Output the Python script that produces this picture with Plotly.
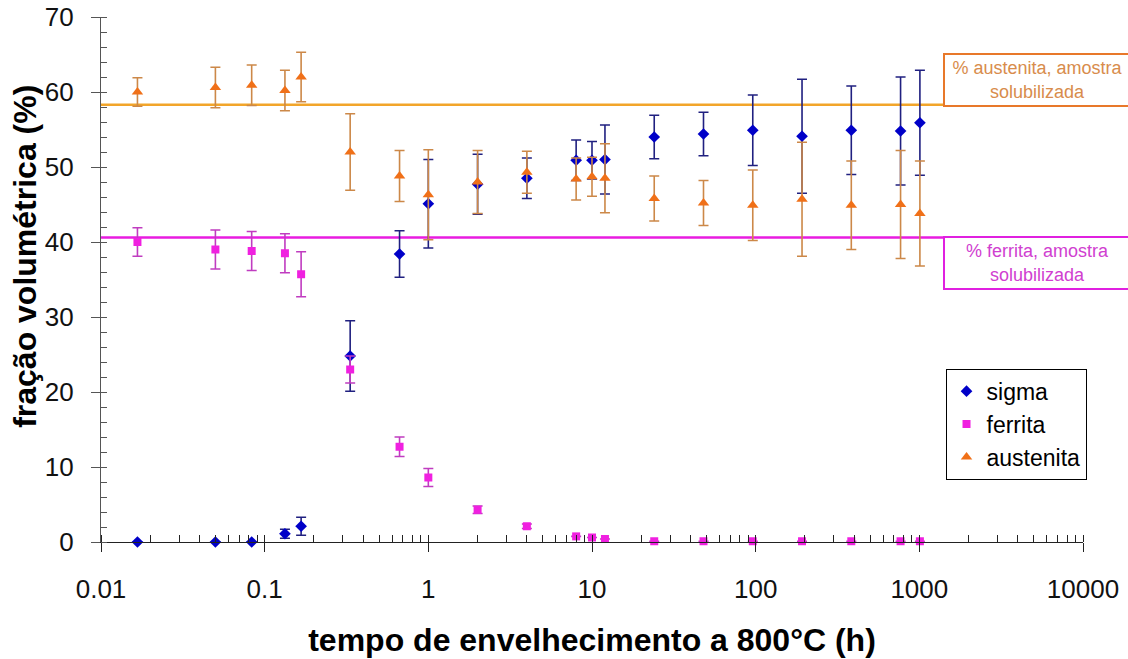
import plotly.graph_objects as go

# ---- data ----
time_h = [0.0167, 0.05, 0.0833, 0.133, 0.167, 0.333, 0.667, 1, 2, 4, 8, 10, 12,
          24, 48, 96, 192, 384, 768, 1008]
sigma = [0, 0, 0, 1.1, 2.1, 24.8, 38.4, 45.1, 47.7, 48.5, 50.9, 50.9, 51.0,
         54.0, 54.4, 54.9, 54.1, 54.9, 54.8, 55.9]
sigma_err = [0, 0, 0, 0.6, 1.2, 4.7, 3.1, 5.9, 4.0, 2.7, 2.7, 2.5, 4.6,
             2.9, 2.9, 4.7, 7.6, 5.9, 7.2, 7.0]
ferrita = [40.0, 39.0, 38.8, 38.5, 35.7, 23.0, 12.7, 8.6, 4.3, 2.1, 0.75, 0.6, 0.4,
           0.1, 0.1, 0.1, 0.1, 0.1, 0.1, 0.1]
ferrita_err = [1.9, 2.6, 2.6, 2.6, 3.0, 1.8, 1.3, 1.2, 0.5, 0.3, 0, 0, 0,
               0, 0, 0, 0, 0, 0, 0]
austenita = [60.0, 60.6, 60.9, 60.2, 62.0, 52.0, 48.8, 46.3, 48.0, 49.3, 48.4, 48.7, 48.5,
             45.8, 45.2, 44.9, 45.7, 44.9, 45.0, 43.8]
austenita_err = [1.9, 2.7, 2.7, 2.7, 3.3, 5.1, 3.4, 6.0, 4.2, 2.8, 2.8, 2.6, 4.6,
                 3.0, 3.0, 4.7, 7.6, 5.9, 7.2, 7.0]

ref_austenita = 58.3
ref_ferrita = 40.6

x_ticks = [0.01, 0.1, 1, 10, 100, 1000, 10000]
x_ticklabels = ["0.01", "0.1", "1", "10", "100", "1000", "10000"]

FONT = "Liberation Sans, Arial, sans-serif"

fig = go.Figure()

fig.add_trace(go.Scatter(
    x=time_h, y=sigma, mode="markers", name="sigma", cliponaxis=False,
    marker=dict(symbol="diamond", size=9, color="#0000C8"),
    error_y=dict(type="data", array=sigma_err, visible=True,
                 color="#202080", thickness=1.6, width=5)))
fig.add_trace(go.Scatter(
    x=time_h, y=ferrita, mode="markers", name="ferrita", cliponaxis=False,
    marker=dict(symbol="square", size=8, color="#F020E0"),
    error_y=dict(type="data", array=ferrita_err, visible=True,
                 color="#C03CC0", thickness=1.6, width=5)))
fig.add_trace(go.Scatter(
    x=time_h, y=austenita, mode="markers", name="austenita", cliponaxis=False,
    marker=dict(symbol="triangle-up", size=10, color="#F07018"),
    error_y=dict(type="data", array=austenita_err, visible=True,
                 color="#CC8848", thickness=1.6, width=5)))

# reference lines (solubilized sample)
fig.add_shape(type="line", xref="paper", x0=0, x1=1, yref="y",
              y0=ref_austenita, y1=ref_austenita,
              line=dict(color="#F2A52A", width=2.5), layer="below")
fig.add_shape(type="line", xref="paper", x0=0, x1=1, yref="y",
              y0=ref_ferrita, y1=ref_ferrita,
              line=dict(color="#E81CE0", width=2.5), layer="below")

fig.add_annotation(xref="paper", yref="paper", x=0.9535, y=0.880,
                   xanchor="center", yanchor="middle",
                   text="% austenita, amostra<br>solubilizada", showarrow=False,
                   font=dict(family=FONT, size=18, color="#D88C4C"),
                   bgcolor="white", bordercolor="#E8782A", borderwidth=2,
                   width=183, height=48, borderpad=1)
fig.add_annotation(xref="paper", yref="paper", x=0.9535, y=0.5305,
                   xanchor="center", yanchor="middle",
                   text="% ferrita, amostra<br>solubilizada", showarrow=False,
                   font=dict(family=FONT, size=18, color="#D040D0"),
                   bgcolor="white", bordercolor="#E020E0", borderwidth=2,
                   width=183, height=48, borderpad=1)

# y-axis title
fig.add_annotation(xref="paper", yref="paper", x=-0.0774, y=0.545,
                   xanchor="center", yanchor="middle", textangle=-90,
                   text="<b>fração volumétrica (%)</b>", showarrow=False,
                   font=dict(family=FONT, size=32, color="black"))

fig.update_layout(
    width=1128, height=659,
    margin=dict(l=101, r=45, t=17, b=117, autoexpand=False),
    paper_bgcolor="white", plot_bgcolor="white",
    font=dict(family=FONT, color="black"),
    showlegend=True,
    legend=dict(x=0.860, y=0.330, xanchor="left", yanchor="top",
                bgcolor="white", bordercolor="black", borderwidth=1,
                font=dict(family=FONT, size=23, color="black"),
                itemsizing="trace"),
    xaxis=dict(type="log", range=[-2, 4], tickvals=x_ticks, ticktext=x_ticklabels,
               automargin=False, ticklabeloverflow="allow",
               ticks="outside", ticklen=9, tickwidth=1.3, tickcolor="#222",
               showline=True, linecolor="#222", linewidth=1.3,
               showgrid=False, zeroline=False,
               tickfont=dict(family=FONT, size=26, color="#111"),
               ticklabelstandoff=15,
               minor=dict(ticks="inside", ticklen=7, tickwidth=1.1, tickcolor="#222",
                          dtick="D1", showgrid=False),
               title=dict(text="<b>tempo de envelhecimento a 800°C (h)</b>",
                          font=dict(family=FONT, size=32, color="black"),
                          standoff=25)),
    yaxis=dict(range=[0, 70], dtick=10, tick0=0, automargin=False,
               ticklabeloverflow="allow",
               ticks="outside", ticklen=9, tickwidth=1.3, tickcolor="#555",
               showline=True, linecolor="#555", linewidth=1.3,
               showgrid=False, zeroline=False,
               tickfont=dict(family=FONT, size=26, color="#111"),
               ticklabelstandoff=12,
               minor=dict(ticks="inside", ticklen=6, tickwidth=1.1, tickcolor="#555",
                          dtick=2, showgrid=False)),
    xaxis2=dict(type="log", range=[-2, 4], overlaying="x", anchor="y", side="bottom",
                automargin=False,
                tickvals=x_ticks, showticklabels=False, ticks="inside", ticklen=9,
                tickwidth=1.3, tickcolor="#222", showgrid=False, zeroline=False,
                showline=False),
    yaxis2=dict(range=[0, 70], overlaying="y", anchor="x", side="left", dtick=10,
                automargin=False,
                showticklabels=False, ticks="inside", ticklen=9, tickwidth=1.3,
                tickcolor="#555", showgrid=False, zeroline=False, showline=False),
)

fig.write_html("out.html", config={"displayModeBar": False},
               post_script="document.body.style.margin='0';document.body.style.overflow='hidden';")
